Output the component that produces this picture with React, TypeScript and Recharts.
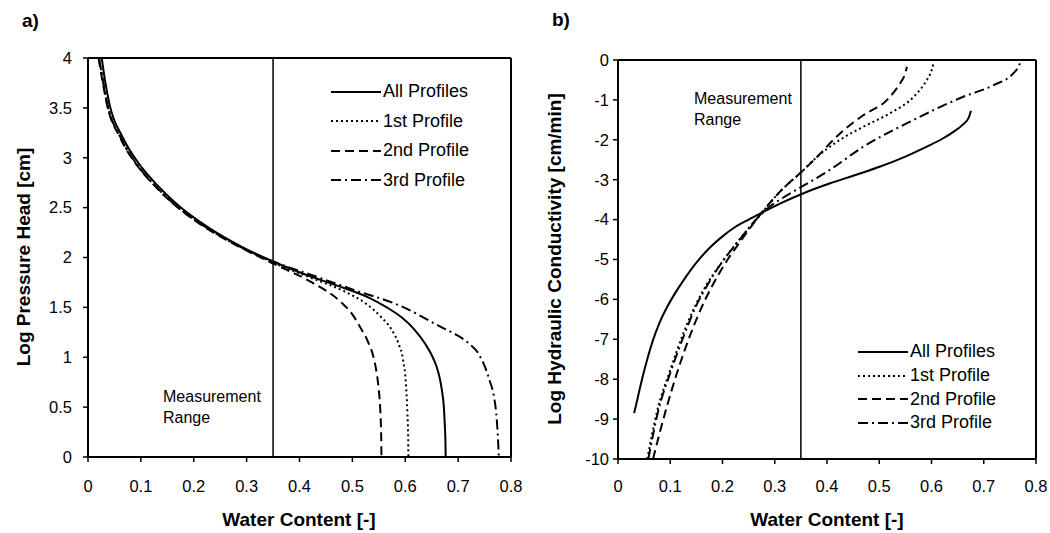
import React from 'react'
import { LineChart, Line, XAxis, YAxis, ReferenceLine } from 'recharts'

const FONT = '"Liberation Sans", Arial, Helvetica, sans-serif'

// a) water retention: water content vs log pressure head
const retentionThetaAll = [0.026, 0.032, 0.041, 0.066, 0.102, 0.13, 0.165, 0.228, 0.29, 0.35, 0.416, 0.47, 0.53, 0.565, 0.593, 0.617, 0.637, 0.652, 0.663, 0.669, 0.673, 0.675, 0.676, 0.6765]
const retentionHeadAll = [4.0, 3.78, 3.53, 3.2, 2.9, 2.73, 2.55, 2.3, 2.11, 1.96, 1.82, 1.72, 1.6, 1.5, 1.4, 1.28, 1.14, 1.0, 0.84, 0.68, 0.5, 0.3, 0.15, 0.0]
const retentionTheta1st = [0.021, 0.028, 0.037, 0.062, 0.097, 0.125, 0.16, 0.224, 0.287, 0.35, 0.42, 0.485, 0.525, 0.555, 0.575, 0.587, 0.596, 0.601, 0.604, 0.6055, 0.606]
const retentionHead1st = [4.0, 3.78, 3.53, 3.2, 2.9, 2.73, 2.55, 2.3, 2.11, 1.95, 1.8, 1.66, 1.54, 1.4, 1.27, 1.14, 0.97, 0.75, 0.45, 0.2, 0.0]
const retentionTheta2nd = [0.02, 0.027, 0.036, 0.061, 0.096, 0.124, 0.159, 0.222, 0.285, 0.35, 0.42, 0.479, 0.5, 0.517, 0.53, 0.54, 0.546, 0.55, 0.5525, 0.5545, 0.555]
const retentionHead2nd = [4.0, 3.78, 3.53, 3.2, 2.9, 2.73, 2.55, 2.3, 2.11, 1.94, 1.76, 1.55, 1.43, 1.28, 1.15, 1.0, 0.84, 0.67, 0.5, 0.2, 0.0]
const retentionTheta3rd = [0.021, 0.028, 0.037, 0.062, 0.097, 0.125, 0.16, 0.224, 0.287, 0.35, 0.42, 0.5, 0.593, 0.669, 0.695, 0.72, 0.738, 0.751, 0.76, 0.768, 0.772, 0.775, 0.777]
const retentionHead3rd = [4.0, 3.78, 3.53, 3.2, 2.9, 2.73, 2.55, 2.3, 2.11, 1.96, 1.83, 1.68, 1.51, 1.3, 1.23, 1.14, 1.04, 0.9, 0.76, 0.6, 0.44, 0.22, 0.0]

// b) conductivity: water content vs log hydraulic conductivity
const condThetaAll = [0.031, 0.038, 0.046, 0.056, 0.067, 0.08, 0.094, 0.11, 0.125, 0.15, 0.176, 0.2, 0.225, 0.25, 0.272, 0.31, 0.355, 0.406, 0.45, 0.502, 0.55, 0.591, 0.62, 0.642, 0.66, 0.671, 0.6755]
const condLogKAll = [-8.85, -8.45, -8.0, -7.5, -7.02, -6.57, -6.19, -5.83, -5.53, -5.08, -4.7, -4.42, -4.18, -4.0, -3.85, -3.6, -3.34, -3.09, -2.9, -2.67, -2.42, -2.17, -1.98, -1.8, -1.62, -1.45, -1.27]
const condTheta1st = [0.056, 0.074, 0.1, 0.125, 0.15, 0.17, 0.2, 0.225, 0.272, 0.31, 0.355, 0.374, 0.425, 0.47, 0.521, 0.566, 0.591, 0.6, 0.604]
const condLogK1st = [-10, -8.85, -7.77, -6.85, -6.1, -5.62, -5.05, -4.62, -3.88, -3.3, -2.76, -2.51, -2.0, -1.67, -1.33, -0.92, -0.5, -0.27, -0.08]
const condTheta2nd = [0.067, 0.09, 0.113, 0.138, 0.16, 0.182, 0.21, 0.234, 0.272, 0.31, 0.355, 0.374, 0.425, 0.47, 0.515, 0.54, 0.549, 0.553]
const condLogK2nd = [-10, -8.85, -7.84, -6.9, -6.2, -5.62, -5.0, -4.55, -3.88, -3.3, -2.76, -2.52, -1.84, -1.38, -1.0, -0.58, -0.36, -0.17]
const condTheta3rd = [0.058, 0.076, 0.102, 0.127, 0.15, 0.172, 0.2, 0.228, 0.27, 0.29, 0.31, 0.355, 0.4, 0.47, 0.566, 0.661, 0.719, 0.757, 0.766, 0.77]
const condLogK3rd = [-10, -8.85, -7.77, -6.88, -6.15, -5.62, -5.05, -4.58, -3.92, -3.68, -3.5, -3.15, -2.8, -2.17, -1.5, -0.92, -0.63, -0.33, -0.18, -0.06]

const thetaTicks = [0, 0.1, 0.2, 0.3, 0.4, 0.5, 0.6, 0.7, 0.8]
const headTicks = [0, 0.5, 1, 1.5, 2, 2.5, 3, 3.5, 4]
const logKTicks = [-10, -9, -8, -7, -6, -5, -4, -3, -2, -1, 0]
const measurementLimit = 0.35

const seriesNames = ['All Profiles', '1st Profile', '2nd Profile', '3rd Profile']
const seriesDash = [undefined, '2 3', '9 5', '10 4 2 4']

const zip = (xs: number[], ys: number[]) => xs.map((x, i) => ({ x, y: ys[i] }))

const retentionSeries = [
  zip(retentionThetaAll, retentionHeadAll),
  zip(retentionTheta1st, retentionHead1st),
  zip(retentionTheta2nd, retentionHead2nd),
  zip(retentionTheta3rd, retentionHead3rd),
]
const condSeries = [
  zip(condThetaAll, condLogKAll),
  zip(condTheta1st, condLogK1st),
  zip(condTheta2nd, condLogK2nd),
  zip(condTheta3rd, condLogK3rd),
]

const tick = { fontSize: 16.5, fill: '#000', fontFamily: FONT }

interface PanelProps {
  series: { x: number; y: number }[][]
  yDomain: [number, number]
  yTicks: number[]
  margin: { top: number; right: number; left: number; bottom: number }
  yAxisWidth: number
  yTickMargin: number
  xTickMargin: number
}

function Panel({ series, yDomain, yTicks, margin, yAxisWidth, yTickMargin, xTickMargin }: PanelProps) {
  return (
    <LineChart width={530} height={533} margin={margin}>
      <XAxis
        type="number"
        dataKey="x"
        domain={[0, 0.8]}
        ticks={thetaTicks}
        tick={tick}
        tickSize={5}
        tickMargin={xTickMargin}
        height={40}
        stroke="#000"
        axisLine={{ stroke: '#000', strokeWidth: 2 }}
        tickLine={{ stroke: '#000', strokeWidth: 1.5 }}
      />
      <YAxis
        type="number"
        domain={yDomain}
        ticks={yTicks}
        tick={tick}
        tickSize={5}
        tickMargin={yTickMargin}
        width={yAxisWidth}
        stroke="#000"
        axisLine={{ stroke: '#000', strokeWidth: 2 }}
        tickLine={{ stroke: '#000', strokeWidth: 1.5 }}
      />
      <ReferenceLine y={yDomain[1]} stroke="#000" strokeWidth={2} />
      <ReferenceLine x={0.8} stroke="#000" strokeWidth={2} />
      <ReferenceLine x={measurementLimit} stroke="#000" strokeWidth={1.5} />
      {series.map((d, i) => (
        <Line
          key={seriesNames[i]}
          data={d}
          dataKey="y"
          name={seriesNames[i]}
          type="monotone"
          stroke="#000"
          strokeWidth={2}
          strokeDasharray={seriesDash[i]}
          dot={false}
          activeDot={false}
          isAnimationActive={false}
        />
      ))}
    </LineChart>
  )
}

function LegendBox({ left, top, rowHeight }: { left: number; top: number; rowHeight: number }) {
  return (
    <div style={{ position: 'absolute', left, top, fontFamily: FONT, fontSize: 18 }}>
      {seriesNames.map((name, i) => (
        <div key={name} style={{ display: 'flex', alignItems: 'center', height: rowHeight }}>
          <svg width={50} height={6} style={{ marginRight: 2 }}>
            <line x1={0} y1={3} x2={50} y2={3} stroke="#000" strokeWidth={2} strokeDasharray={seriesDash[i]} />
          </svg>
          <span>{name}</span>
        </div>
      ))}
    </div>
  )
}

const abs = (left: number, top: number): React.CSSProperties => ({ position: 'absolute', left, top })

export default function App() {
  return (
    <div style={{ position: 'absolute', left: 0, top: 0, width: 1050, height: 533, background: '#fff', fontFamily: FONT, color: '#000' }}>
      <div style={abs(0, 0)}>
        <Panel
          series={retentionSeries}
          yDomain={[0, 4]}
          yTicks={headTicks}
          margin={{ top: 58, right: 19, left: 0, bottom: 36 }}
          yAxisWidth={88}
          yTickMargin={11}
          xTickMargin={18}
        />
      </div>
      <div style={abs(520, 0)}>
        <Panel
          series={condSeries}
          yDomain={[-10, 0]}
          yTicks={logKTicks}
          margin={{ top: 60, right: 14, left: 0, bottom: 34 }}
          yAxisWidth={98}
          yTickMargin={4}
          xTickMargin={16}
        />
      </div>

      <div style={{ ...abs(22, 10), fontSize: 19, fontWeight: 'bold' }}>a)</div>
      <div style={{ ...abs(552, 9), fontSize: 19, fontWeight: 'bold' }}>b)</div>

      <div style={{ position: 'absolute', left: 24, top: 257, transform: 'translate(-50%, -50%) rotate(-90deg)', whiteSpace: 'nowrap', fontSize: 19, fontWeight: 'bold' }}>
        Log Pressure Head [cm]
      </div>
      <div style={{ position: 'absolute', left: 555, top: 259, transform: 'translate(-50%, -50%) rotate(-90deg)', whiteSpace: 'nowrap', fontSize: 19, fontWeight: 'bold' }}>
        Log Hydraulic Conductivity [cm/min]
      </div>
      <div style={{ position: 'absolute', left: 299, top: 520, transform: 'translate(-50%, -50%)', whiteSpace: 'nowrap', fontSize: 19, fontWeight: 'bold' }}>
        Water Content [-]
      </div>
      <div style={{ position: 'absolute', left: 827, top: 520, transform: 'translate(-50%, -50%)', whiteSpace: 'nowrap', fontSize: 19, fontWeight: 'bold' }}>
        Water Content [-]
      </div>

      <div style={{ ...abs(163, 386), fontSize: 16, lineHeight: '21px' }}>
        Measurement
        <br />
        Range
      </div>
      <div style={{ ...abs(694, 88), fontSize: 16, lineHeight: '21px' }}>
        Measurement
        <br />
        Range
      </div>

      <LegendBox left={331} top={77} rowHeight={29.5} />
      <LegendBox left={858} top={340} rowHeight={23.7} />
    </div>
  )
}
